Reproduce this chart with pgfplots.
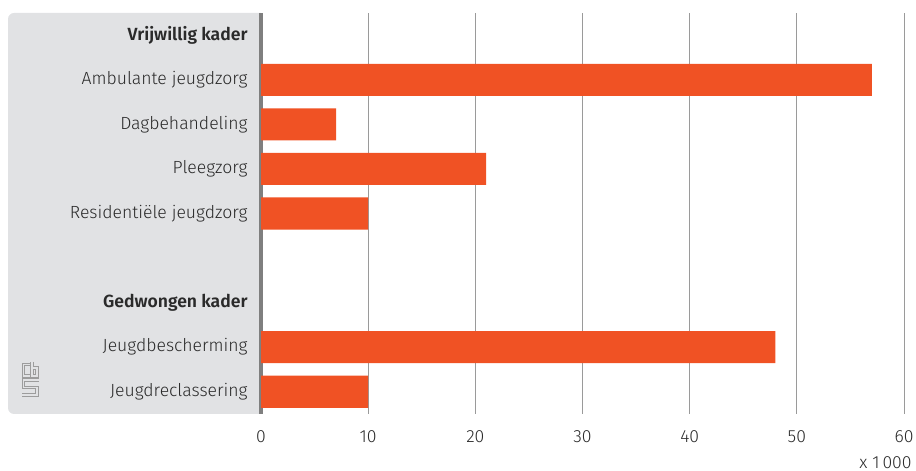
\documentclass[border=0pt]{standalone}
\usepackage{pgfplots}
\pgfplotsset{compat=1.18}
\usepackage{fontspec}
\setmainfont{Fira Sans}[UprightFont=* Light, BoldFont=* SemiBold]
\definecolor{barc}{HTML}{F05224}
\definecolor{panel}{HTML}{E1E2E4}
\definecolor{axisgray}{HTML}{7F7F7F}
\definecolor{gridgray}{HTML}{9A9A9A}
\definecolor{logogray}{HTML}{9C9C9C}
\definecolor{txt}{HTML}{2A2A2A}
\begin{document}
\begin{tikzpicture}
\path[use as bounding box] (0,0) rectangle (458pt,235.5pt);
\begin{scope}[x=0.5pt,y=-0.5pt,shift={(0,235.5pt)}]
  \begin{scope}
    \clip (0,0) rectangle (261,471);
    \fill[panel,rounded corners=3pt] (8,13) rectangle (280,414);
  \end{scope}
  % logo
  \foreach \w/\c in {3.2/logogray,1.2/panel}{
    \draw[line width=\w*0.5pt,color=\c,line cap=butt,line join=miter]
      (30,364.5)--(23.5,364.5)--(23.5,376)--(30,376);
    \draw[line width=\w*0.5pt,color=\c,line cap=butt,line join=miter]
      (32,362)--(32,376)--(37,376)--(37,368)--(32,368);
    \draw[line width=\w*0.5pt,color=\c,line cap=butt,line join=miter]
      (38.5,380)--(23.5,380)--(23.5,387.5)--(37,387.5)--(37,395)--(22,395);
  }
\end{scope}
\begin{axis}[
  at={(130.5pt,28.5pt)}, anchor=south west, scale only axis,
  width=321.5pt, height=200.5pt,
  xmin=0, xmax=60, ymin=-0.5, ymax=8.5,
  xbar, bar width=0.72,
  axis x line*=bottom, axis y line*=left,
  x axis line style={draw=none},
  y axis line style={draw=axisgray, line width=1.75pt, -},
  major tick length=0pt,
  xtick={0,10,...,60},
  xmajorgrids, major grid style={color=gridgray,line width=0.5pt},
  ytick={0,...,8},
  yticklabels={Jeugdreclassering, Jeugdbescherming, \textbf{Gedwongen kader}, {}, Residentiële jeugdzorg, Pleegzorg, Dagbehandeling, Ambulante jeugdzorg, \textbf{Vrijwillig kader}},
  yticklabel style={anchor=east, inner sep=0pt, xshift=-6.5pt, font=\fontsize{8.8}{10}\selectfont, text=txt},
  xticklabel style={anchor=north, inner sep=0pt, yshift=-8pt, font=\fontsize{8.8}{10}\selectfont, text=txt},
  /pgf/number format/assume math mode=true,
  axis on top=false,
  clip=false,
]
\addplot[fill=barc, draw=none] coordinates {(57,7) (7,6) (21,5) (10,4) (48,1) (10,0)};
\end{axis}
\node[anchor=east, inner sep=0pt, font=\fontsize{8.8}{10}\selectfont, text=txt] at (456pt,4pt) {x 1\,000};
\end{tikzpicture}
\end{document}
